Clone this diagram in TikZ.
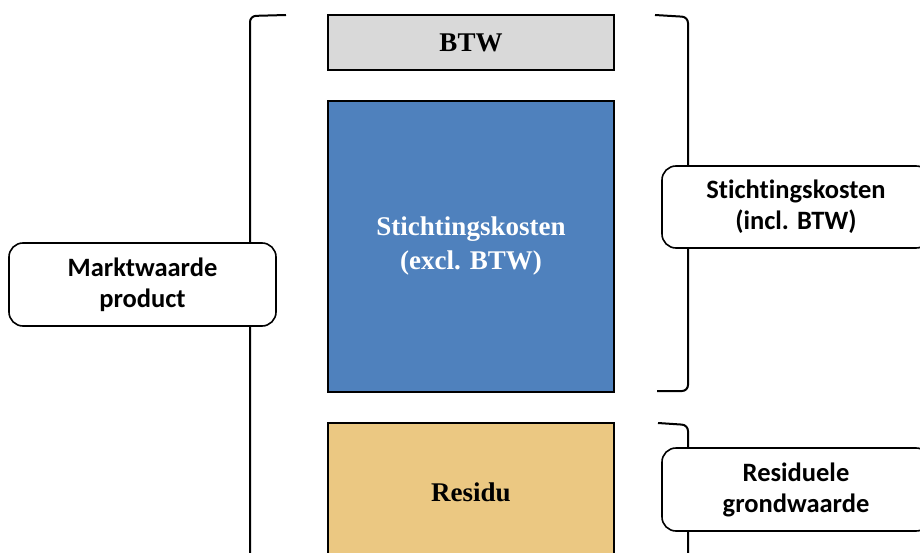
\documentclass[tikz,border=0pt]{standalone}
\usepackage{fontspec}
\setmainfont{Liberation Serif}
\newfontfamily\labelfont[Ligatures=NoCommon]{Carlito}
\definecolor{btwgray}{HTML}{D9D9D9}
\definecolor{costblue}{HTML}{4F81BD}
\definecolor{residutan}{HTML}{EBC882}
\tikzset{
  block/.style={draw=black, line width=2pt, minimum width=286pt, align=center,
    font=\fontsize{27}{34}\selectfont\bfseries, inner sep=0pt},
  tag/.style={draw=black, line width=1.6pt, fill=white, rounded corners=14pt,
    align=center, font=\labelfont\fontsize{26.5}{31}\selectfont\bfseries, inner sep=0pt},
  brace/.style={draw=black, line width=2pt, rounded corners=6pt},
}
\begin{document}
\begin{tikzpicture}[x=1pt,y=-1pt]
  \useasboundingbox (0,0) rectangle (920,553);
  \clip (0,0) rectangle (920,553);

  % column of stacked cost blocks
  \node[block, fill=btwgray, minimum height=55pt] (btw) at (471,42.5) {BTW};
  \node[block, fill=costblue, minimum height=291pt, text=white] (excl) at (471,246.5)
    {Stichtingskosten\\(excl. BTW)};
  \node[block, fill=residutan, minimum height=138pt] (res) at (471,492) {Residu};

  % brackets
  \draw[brace] (286,15) -- (250,16) -- (250,580);
  \draw[brace] (655,15) -- (688,17) -- (688,391) -- (657,391);
  \draw[brace] (658,423) -- (688,425) -- (688,580);

  % labels on the brackets
  \node[tag, minimum width=267pt, minimum height=83pt] (mkt) at (142.5,284.5)
    {Marktwaarde\\product};
  \node[tag, minimum width=268pt, minimum height=82pt] (incl) at (796,207)
    {Stichtingskosten\\(incl. BTW)};
  \node[tag, minimum width=268pt, minimum height=83pt] (grond) at (796,489.5)
    {Residuele\\grondwaarde};
\end{tikzpicture}
\end{document}
